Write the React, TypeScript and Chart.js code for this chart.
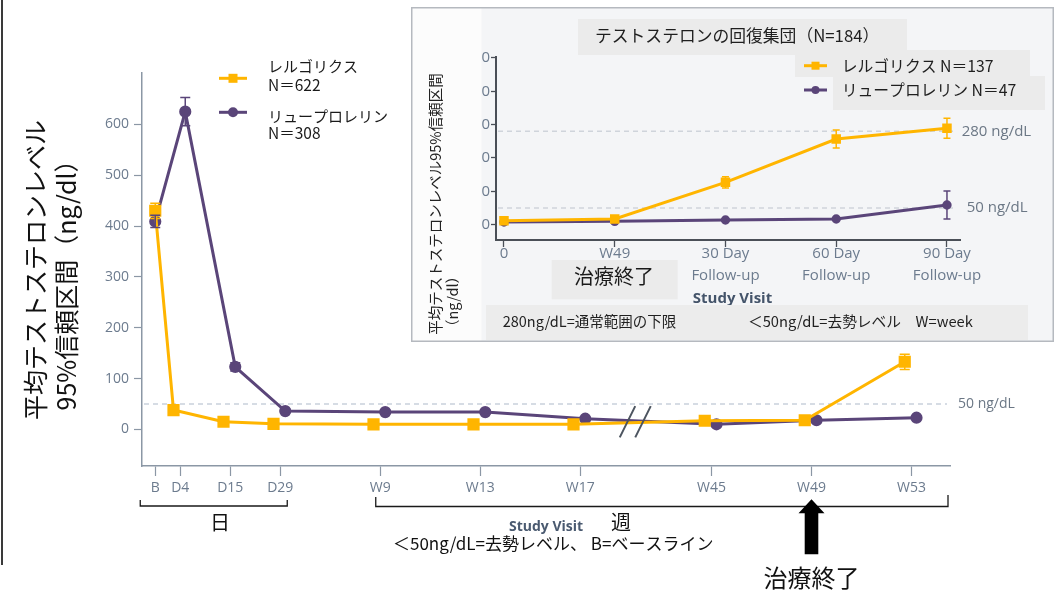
import React, { useEffect, useRef } from "react";
import { Chart, registerables } from "chart.js";

Chart.register(...registerables);

// ---- Main study: mean testosterone (95% CI) by visit ----
const visitLabels = ["B", "D4", "D15", "D29", "W9", "W13", "W17", "W45", "W49", "W53"];
// Place of each visit on the compressed visit axis (the W17 -> W45 stretch is broken)
const visitSlots = [0, 1, 3, 5, 9, 13, 17, 22.25, 26.25, 30.25];
const relugolixMean = [430, 38, 15, 11, 10, 10, 10, 17, 18, 133];
const relugolixCi = [15, 0, 0, 0, 0, 0, 0, 0, 0, 15];
const leuprolideMean = [409, 625, 123, 36, 34, 34, 21, 10, 18, 23];
const leuprolideCi = [12, 28, 8, 4, 4, 4, 0, 0, 0, 0];
const mainYTicks = [0, 100, 200, 300, 400, 500, 600];
const castrationLevel = 50;

// ---- Testosterone recovery subgroup ----
const recoveryLabels = [["0"], ["W49"], ["30 Day", "Follow-up"], ["60 Day", "Follow-up"], ["90 Day", "Follow-up"]];
const recoveryRelugolix = [12, 17, 127, 257, 289];
const recoveryRelugolixCi = [3, 3, 17, 27, 30];
const recoveryLeuprolide = [8, 10, 14, 17, 59];
const recoveryLeuprolideCi = [0, 0, 0, 0, 42];
const recoveryYTicks = [0, 50, 100, 150, 200, 250, 300, 350, 400, 450, 500];
const normalLowerLimit = 280;

const YELLOW = "#FFB500";
const PURPLE = "#5A4579";
const AXIS = "#8b97a5";
const TICK_TEXT = "#6c7b8e";
const NOTE_TEXT = "#6b7785";
const JP = "'Noto Sans CJK JP', 'Noto Sans', sans-serif";
const OS = "'Open Sans', 'Noto Sans', sans-serif";

// offsets so the two series don't sit on top of each other
const RELUGOLIX_SHIFT = -0.27;
const LEUPROLIDE_SHIFT = 0.2;

function label(
  ctx: CanvasRenderingContext2D,
  s: string,
  x: number,
  y: number,
  font: string,
  color: string,
  align: CanvasTextAlign = "left"
) {
  ctx.save();
  ctx.font = font;
  ctx.fillStyle = color;
  ctx.textAlign = align;
  ctx.textBaseline = "middle";
  ctx.fillText(s, x, y);
  ctx.restore();
}

function rotatedLabel(ctx: CanvasRenderingContext2D, s: string, x: number, y: number, font: string, color: string) {
  ctx.save();
  ctx.translate(x, y);
  ctx.rotate(-Math.PI / 2);
  ctx.font = font;
  ctx.fillStyle = color;
  ctx.textAlign = "center";
  ctx.textBaseline = "middle";
  ctx.fillText(s, 0, 0);
  ctx.restore();
}

function legendMarker(ctx: CanvasRenderingContext2D, x0: number, x1: number, y: number, color: string, square: boolean, size: number) {
  ctx.save();
  ctx.strokeStyle = color;
  ctx.fillStyle = color;
  ctx.lineWidth = 3;
  ctx.beginPath();
  ctx.moveTo(x0, y);
  ctx.lineTo(x1, y);
  ctx.stroke();
  const cx = (x0 + x1) / 2;
  if (square) {
    ctx.fillRect(cx - size / 2, y - size / 2, size, size);
  } else {
    ctx.beginPath();
    ctx.arc(cx, y, size / 2, 0, Math.PI * 2);
    ctx.fill();
  }
  ctx.restore();
}

function dashedLevel(chart: any, value: number, xEnd: number, color: string) {
  const { ctx, chartArea } = chart;
  const y = chart.scales.y.getPixelForValue(value);
  ctx.save();
  ctx.strokeStyle = color;
  ctx.lineWidth = 1.5;
  ctx.setLineDash([5, 4]);
  ctx.beginPath();
  ctx.moveTo(chartArea.left + 2, y);
  ctx.lineTo(xEnd, y);
  ctx.stroke();
  ctx.restore();
  return y;
}

// Vertical 95% CI whiskers with caps, read from dataset.ciHalfWidth
const ciBarsPlugin = {
  id: "ciBars",
  afterDatasetsDraw(chart: any, _args: any, opts: any) {
    const { ctx } = chart;
    const yScale = chart.scales.y;
    const cap = opts.cap ?? 5;
    chart.data.datasets.forEach((ds: any, i: number) => {
      if (!ds.ciHalfWidth) return;
      const meta = chart.getDatasetMeta(i);
      ctx.save();
      ctx.strokeStyle = ds.borderColor;
      ctx.lineWidth = opts.lineWidth ?? 1.5;
      meta.data.forEach((pt: any, j: number) => {
        const half = ds.ciHalfWidth[j];
        if (!half) return;
        const v = ds.data[j].y;
        const top = yScale.getPixelForValue(v + half);
        const bot = yScale.getPixelForValue(v - half);
        ctx.beginPath();
        ctx.moveTo(pt.x, top);
        ctx.lineTo(pt.x, bot);
        ctx.moveTo(pt.x - cap, top);
        ctx.lineTo(pt.x + cap, top);
        ctx.moveTo(pt.x - cap, bot);
        ctx.lineTo(pt.x + cap, bot);
        ctx.stroke();
      });
      ctx.restore();
    });
  },
};

const mainDecorPlugin = {
  id: "mainDecor",
  beforeDatasetsDraw(chart: any) {
    const y = dashedLevel(chart, castrationLevel, chart.chartArea.right - 3, "#c9d1dc");
    label(chart.ctx, "50 ng/dL", 958, y, `14px ${OS}`, NOTE_TEXT);
  },
  afterDraw(chart: any) {
    const { ctx, chartArea } = chart;
    const xs = chart.scales.x;
    const ys = chart.scales.y;

    // frame line on the left edge
    ctx.save();
    ctx.fillStyle = "#3a3a3a";
    ctx.fillRect(1, 0, 2, 565);
    ctx.restore();

    // axis break between W17 and W45
    const bx = xs.getPixelForValue(19.2);
    const by = ys.getPixelForValue(15);
    ctx.save();
    ctx.strokeStyle = "#4d5560";
    ctx.lineWidth = 2;
    ctx.beginPath();
    ctx.moveTo(bx - 15.5, by + 15.6);
    ctx.lineTo(bx, by - 15.6);
    ctx.moveTo(bx, by + 15.6);
    ctx.lineTo(bx + 15.5, by - 15.6);
    ctx.stroke();
    ctx.restore();

    // legend
    legendMarker(ctx, 219, 247, 78.3, YELLOW, true, 9);
    label(ctx, "レルゴリクス", 268, 66.7, `15px ${JP}`, "#1a1a1a");
    label(ctx, "N＝622", 268, 85, `15.5px ${JP}`, "#1a1a1a");
    legendMarker(ctx, 219, 247, 112.3, PURPLE, false, 10);
    label(ctx, "リュープロレリン", 268, 116.7, `15px ${JP}`, "#1a1a1a");
    label(ctx, "N＝308", 268, 133.3, `15.5px ${JP}`, "#1a1a1a");

    // y-axis title
    rotatedLabel(ctx, "平均テストステロンレベル", 35, 270, `25px ${JP}`, "#111");
    rotatedLabel(ctx, "95%信頼区間（ng/dl）", 66.7, 279, `25px ${JP}`, "#111");

    // brackets under the visit axis
    const xB = xs.getPixelForValue(visitSlots[0]);
    const xD29 = xs.getPixelForValue(visitSlots[3]);
    const xW9 = xs.getPixelForValue(visitSlots[4]);
    ctx.save();
    ctx.strokeStyle = "#1a1a1a";
    ctx.lineWidth = 1.3;
    ctx.beginPath();
    ctx.moveTo(xB - 15, 500);
    ctx.lineTo(xB - 15, 506);
    ctx.lineTo(xD29 + 7, 506);
    ctx.lineTo(xD29 + 7, 500);
    ctx.moveTo(xW9 - 4.5, 497);
    ctx.lineTo(xW9 - 4.5, 506.5);
    ctx.lineTo(chartArea.right - 2, 506.5);
    ctx.lineTo(chartArea.right - 2, 495);
    ctx.stroke();
    ctx.restore();
    label(ctx, "日", 220, 522, `20px ${JP}`, "#111", "center");
    label(ctx, "週", 621, 522, `20px ${JP}`, "#111", "center");

    label(ctx, "Study Visit", 546, 527, `bold 14px ${OS}`, "#4a5a70", "center");
    label(ctx, "＜50ng/dL=去勢レベル、 B=ベースライン", 393, 544, `17px ${JP}`, "#111");

    // end-of-treatment arrow at W49
    const ax = xs.getPixelForValue(visitSlots[8]);
    ctx.save();
    ctx.fillStyle = "#000";
    ctx.beginPath();
    ctx.moveTo(ax, 499.3);
    ctx.lineTo(ax + 13, 513.3);
    ctx.lineTo(ax + 6.8, 513.3);
    ctx.lineTo(ax + 6.8, 554.3);
    ctx.lineTo(ax - 6.8, 554.3);
    ctx.lineTo(ax - 6.8, 513.3);
    ctx.lineTo(ax - 13, 513.3);
    ctx.closePath();
    ctx.fill();
    ctx.restore();
    label(ctx, "治療終了", ax, 578, `24px ${JP}`, "#111", "center");
  },
};

// Recovery panel decorations (canvas coordinates are local to the panel)
const PANEL_W = 643;
const PANEL_H = 335;
const insetDecorPlugin = {
  id: "insetDecor",
  beforeDraw(chart: any) {
    const { ctx } = chart;
    ctx.save();
    ctx.fillStyle = "#f4f5f7";
    ctx.fillRect(0, 0, PANEL_W, PANEL_H);
    // title box
    ctx.fillStyle = "#ebebeb";
    ctx.fillRect(167, 12, 329, 36);
    // legend boxes
    ctx.fillRect(384, 43, 235, 27);
    ctx.fillRect(422, 69, 212, 34);
    ctx.restore();
    label(ctx, "テストステロンの回復集団（N=184）", 184, 29, `16.8px ${JP}`, "#1f1f1f");
    legendMarker(ctx, 393, 416, 58.7, YELLOW, true, 8);
    label(ctx, "レルゴリクス N＝137", 430.7, 58.7, `15.8px ${JP}`, "#1f1f1f");
    legendMarker(ctx, 393, 416, 83, PURPLE, false, 8);
    label(ctx, "リュープロレリン N＝47", 430.7, 83, `15.8px ${JP}`, "#1f1f1f");
  },
  beforeDatasetsDraw(chart: any) {
    const { ctx } = chart;
    const y280 = dashedLevel(chart, normalLowerLimit, 545.7, "#cfd4db");
    const y50 = dashedLevel(chart, castrationLevel, 545.7, "#cfd4db");
    label(ctx, "280 ng/dL", 550.7, y280, `15px ${OS}`, NOTE_TEXT);
    label(ctx, "50 ng/dL", 555.7, y50, `15px ${OS}`, NOTE_TEXT);
  },
  afterDraw(chart: any) {
    const { ctx } = chart;
    // left title column
    ctx.save();
    ctx.fillStyle = "#fcfcfc";
    ctx.fillRect(0, 0, 70.5, PANEL_H);
    ctx.restore();
    rotatedLabel(ctx, "平均テストステロンレベル95%信頼区間", 24, 197, `14.5px ${JP}`, "#222");
    rotatedLabel(ctx, "（ng/dl）", 41.7, 294.5, `14.5px ${JP}`, "#222");

    // end of treatment tag
    ctx.save();
    ctx.fillStyle = "#ebebeb";
    ctx.fillRect(140.7, 253, 126, 39.3);
    ctx.restore();
    label(ctx, "治療終了", 203, 269.7, `20px ${JP}`, "#1a1a1a", "center");

    label(ctx, "Study Visit", 321.5, 292, `bold 15px ${OS}`, "#44546a", "center");

    // footnote box
    ctx.save();
    ctx.fillStyle = "#ececec";
    ctx.fillRect(75, 298, 542, 35);
    ctx.restore();
    label(ctx, "280ng/dL=通常範囲の下限", 91.7, 314.7, `14.5px ${JP}`, "#1f1f1f");
    label(ctx, "＜50ng/dL=去勢レベル　W=week", 337, 314.7, `14.7px ${JP}`, "#1f1f1f");

    // panel border
    ctx.save();
    ctx.strokeStyle = "#b5b9bf";
    ctx.lineWidth = 1.5;
    ctx.strokeRect(0.75, 0.75, PANEL_W - 1.5, PANEL_H - 1.5);
    ctx.restore();
  },
};

export default function App() {
  const mainRef = useRef<HTMLCanvasElement | null>(null);
  const insetRef = useRef<HTMLCanvasElement | null>(null);

  useEffect(() => {
    if (!mainRef.current || !insetRef.current) return;

    const tickFont = { family: OS, size: 14 };

    const main = new Chart(mainRef.current, {
      type: "line",
      data: {
        datasets: [
          {
            label: "レルゴリクス",
            data: visitSlots.map((s, i) => ({ x: s + (i ? RELUGOLIX_SHIFT : 0), y: relugolixMean[i] })),
            borderColor: YELLOW,
            backgroundColor: YELLOW,
            pointBackgroundColor: YELLOW,
            pointBorderColor: YELLOW,
            pointStyle: "rect",
            pointRadius: 6.5,
            borderWidth: 3,
            order: 0,
            ciHalfWidth: relugolixCi,
          } as any,
          {
            label: "リュープロレリン",
            data: visitSlots.map((s, i) => ({ x: s + (i ? LEUPROLIDE_SHIFT : 0), y: leuprolideMean[i] })),
            borderColor: PURPLE,
            backgroundColor: PURPLE,
            pointBackgroundColor: PURPLE,
            pointBorderColor: PURPLE,
            pointStyle: "circle",
            pointRadius: 4.6,
            borderWidth: 3,
            order: 1,
            ciHalfWidth: leuprolideCi,
          } as any,
        ],
      },
      options: {
        animation: false,
        responsive: false,
        devicePixelRatio: 1,
        layout: { padding: { left: 0, top: 73, right: 109, bottom: 0 } },
        plugins: {
          legend: { display: false },
          tooltip: { enabled: false },
          ciBars: { cap: 5, lineWidth: 1.5 },
        } as any,
        scales: {
          x: {
            type: "linear",
            min: -0.53,
            max: 31.79,
            afterBuildTicks: (s: any) => {
              s.ticks = visitSlots.map((v) => ({ value: v }));
            },
            afterFit: (s: any) => {
              s.height = 125;
            },
            ticks: {
              autoSkip: false,
              maxRotation: 0,
              padding: 4,
              color: TICK_TEXT,
              font: tickFont,
              callback: (v: any) => visitLabels[visitSlots.indexOf(Number(v))] ?? "",
            },
            grid: { drawOnChartArea: false, drawTicks: true, tickLength: 10, tickColor: AXIS, tickWidth: 1.2 },
            border: { color: AXIS, width: 1.5 },
          },
          y: {
            type: "linear",
            min: -72,
            max: 701,
            afterBuildTicks: (s: any) => {
              s.ticks = mainYTicks.map((v) => ({ value: v }));
            },
            afterFit: (s: any) => {
              s.width = 142;
            },
            ticks: { padding: 5, color: TICK_TEXT, font: tickFont },
            grid: { drawOnChartArea: false, drawTicks: true, tickLength: 8, tickColor: AXIS, tickWidth: 1.2 },
            border: { color: AXIS, width: 1.5 },
          },
        },
      },
      plugins: [ciBarsPlugin, mainDecorPlugin],
    });

    const inset = new Chart(insetRef.current, {
      type: "line",
      data: {
        datasets: [
          {
            label: "レルゴリクス",
            data: recoveryRelugolix.map((v, i) => ({ x: i, y: v })),
            borderColor: YELLOW,
            backgroundColor: YELLOW,
            pointBackgroundColor: YELLOW,
            pointBorderColor: YELLOW,
            pointStyle: "rect",
            pointRadius: 4.6,
            borderWidth: 3,
            order: 0,
            ciHalfWidth: recoveryRelugolixCi,
          } as any,
          {
            label: "リュープロレリン",
            data: recoveryLeuprolide.map((v, i) => ({ x: i, y: v })),
            borderColor: PURPLE,
            backgroundColor: PURPLE,
            pointBackgroundColor: PURPLE,
            pointBorderColor: PURPLE,
            pointStyle: "circle",
            pointRadius: 3.2,
            borderWidth: 3,
            order: 1,
            ciHalfWidth: recoveryLeuprolideCi,
          } as any,
        ],
      },
      options: {
        animation: false,
        responsive: false,
        devicePixelRatio: 1,
        layout: { padding: { left: 0, top: 50.3, right: 93.3, bottom: 0 } },
        plugins: {
          legend: { display: false },
          tooltip: { enabled: false },
          ciBars: { cap: 3.5, lineWidth: 1.5 },
        } as any,
        scales: {
          x: {
            type: "linear",
            min: -0.072,
            max: 4.124,
            afterBuildTicks: (s: any) => {
              s.ticks = recoveryLabels.map((_, i) => ({ value: i }));
            },
            afterFit: (s: any) => {
              s.height = 102;
            },
            ticks: {
              autoSkip: false,
              maxRotation: 0,
              padding: -4,
              color: TICK_TEXT,
              font: { family: OS, size: 15, lineHeight: 22 / 15 },
              callback: (v: any) => recoveryLabels[Number(v)] ?? "",
            },
            grid: { drawOnChartArea: false, drawTicks: true, tickLength: 7, tickColor: "#4a4f57", tickWidth: 1.3 },
            border: { color: "#4a4f57", width: 2 },
          },
          y: {
            type: "linear",
            min: -46,
            max: 502,
            afterBuildTicks: (s: any) => {
              s.ticks = recoveryYTicks.map((v) => ({ value: v }));
            },
            afterFit: (s: any) => {
              s.width = 85;
            },
            ticks: {
              padding: 1,
              color: TICK_TEXT,
              font: { family: OS, size: 15 },
              callback: (v: any) => (Number(v) % 100 === 0 ? String(v) : ""),
            },
            grid: { drawOnChartArea: false, drawTicks: true, tickLength: 5, tickColor: "#4a4f57", tickWidth: 1.3 },
            border: { color: "#4a4f57", width: 2 },
          },
        },
      },
      plugins: [ciBarsPlugin, insetDecorPlugin],
    });

    return () => {
      main.destroy();
      inset.destroy();
    };
  }, []);

  return (
    <div style={{ position: "absolute", left: 0, top: 0, width: 1059, height: 591, background: "#fff", overflow: "hidden" }}>
      <canvas ref={mainRef} width={1059} height={591} style={{ position: "absolute", left: 0, top: 0, width: 1059, height: 591 }} />
      <canvas
        ref={insetRef}
        width={PANEL_W}
        height={PANEL_H}
        style={{ position: "absolute", left: 411, top: 7, width: PANEL_W, height: PANEL_H }}
      />
    </div>
  );
}
